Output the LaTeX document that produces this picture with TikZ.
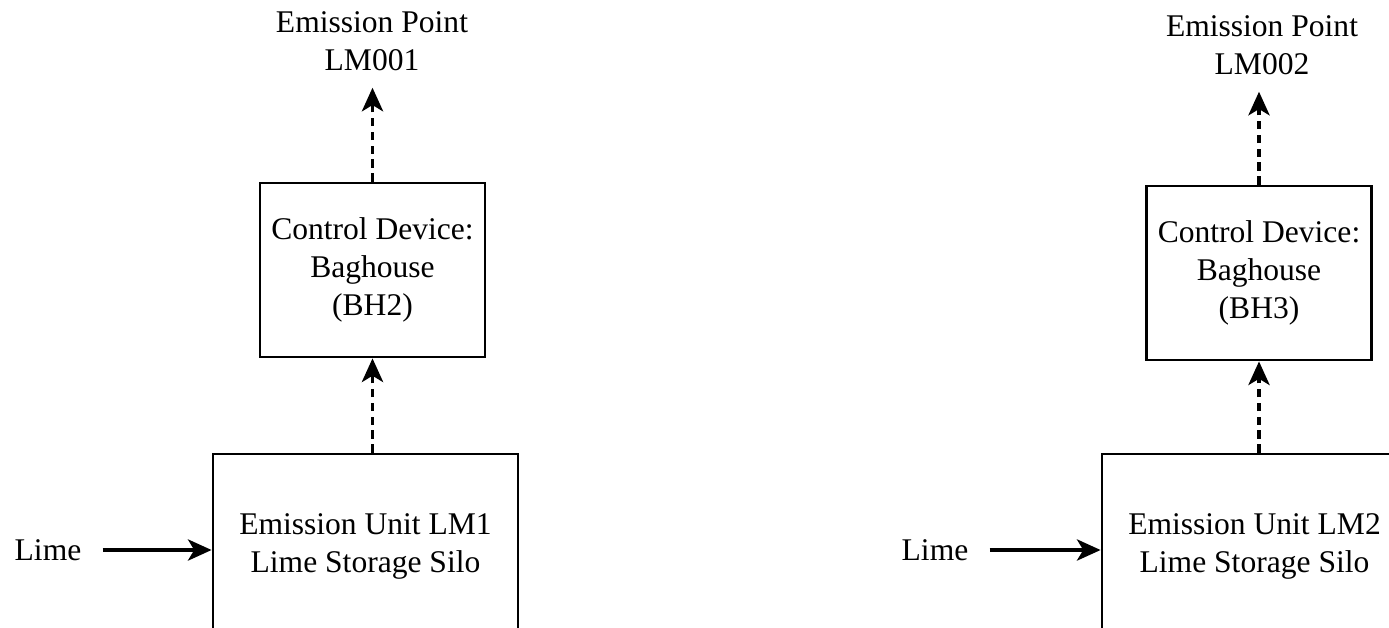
\documentclass[tikz,border=0pt]{standalone}
\usepackage{fontspec}
\setmainfont{Liberation Serif}
\usetikzlibrary{arrows.meta}
\begin{document}
\begin{tikzpicture}[x=0.0127cm,y=-0.0127cm,
    font=\fontsize{11.4}{13.7}\selectfont,
    ctrlbox/.style={shape=rectangle,draw,line width=1pt,align=center,minimum width=2.8575cm,minimum height=2.21cm},
    unitbox/.style={shape=rectangle,draw,line width=1pt,align=center,minimum width=3.8735cm,minimum height=2.3368cm},
    pointlabel/.style={align=center,inner ysep=6pt},
    feedlabel/.style={inner xsep=7.5pt},
    flowline/.style={-{Stealth[length=0.3cm,width=0.27cm,inset=0.08cm]},line width=1.2pt},
    gasline/.style={flowline,dash pattern=on 3pt off 2pt}]
    \clip (0,0) rectangle (1389,627);
    % silo LM1
    \node[pointlabel] (pt_a)   at (372,41)    {Emission Point\\LM001};
    \node[ctrlbox]    (ctrl_a) at (372.5,270) {Control Device:\\Baghouse\\(BH2)};
    \node[unitbox]    (unit_a) at (365.5,546) {Emission Unit LM1\\Lime Storage Silo};
    \node[feedlabel]  (lime_a) at (48,550)    {Lime};
    \draw[gasline]  (ctrl_a.north) -- (ctrl_a.north |- pt_a.south);
    \draw[gasline]  (ctrl_a.south |- unit_a.north) -- (ctrl_a.south);
    \draw[flowline] (lime_a.east) -- (lime_a.east -| unit_a.west);
    % silo LM2
    \node[pointlabel] (pt_b)   at (1262,45)    {Emission Point\\LM002};
    \node[ctrlbox]    (ctrl_b) at (1259,273)   {Control Device:\\Baghouse\\(BH3)};
    \node[unitbox]    (unit_b) at (1254.5,546) {Emission Unit LM2\\Lime Storage Silo};
    \node[feedlabel]  (lime_b) at (935,550)    {Lime};
    \draw[gasline]  (ctrl_b.north) -- (ctrl_b.north |- pt_b.south);
    \draw[gasline]  (ctrl_b.south |- unit_b.north) -- (ctrl_b.south);
    \draw[flowline] (lime_b.east) -- (lime_b.east -| unit_b.west);
\end{tikzpicture}
\end{document}
